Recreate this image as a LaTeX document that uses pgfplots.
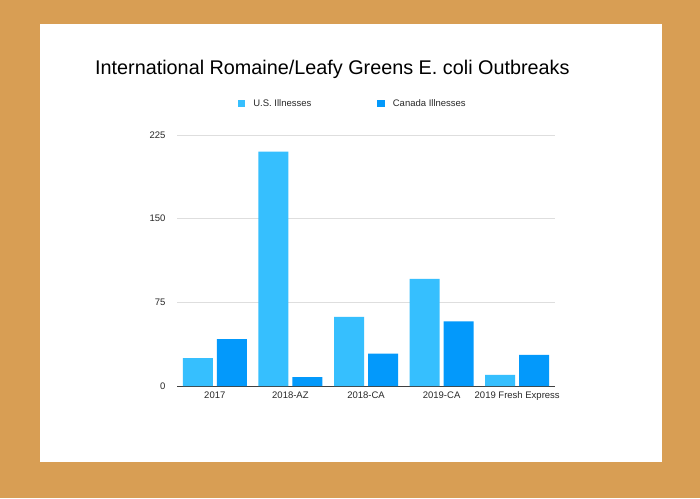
\documentclass[border=0pt]{standalone}
\usepackage{fontspec}
\setmainfont{Liberation Sans}
\usepackage{pgfplots}
\pgfplotsset{compat=1.18}
\definecolor{cork}{RGB}{216,158,84}
\definecolor{usblue}{RGB}{54,191,254}
\definecolor{cablue}{RGB}{3,153,251}
\definecolor{gridgray}{RGB}{222,222,222}
\definecolor{ticktext}{RGB}{40,40,40}
\begin{document}
\begin{tikzpicture}
\fill[cork] (0pt,0pt) rectangle (700pt,498pt);
\fill[white] (40pt,36pt) rectangle (662pt,474pt);
\node[anchor=base west, inner sep=0pt, font=\fontsize{19.8}{23}\selectfont] at (95pt,423pt) {International Romaine/Leafy Greens E. coli Outbreaks};
\begin{axis}[
  at={(177pt,112pt)}, anchor=south west,
  scale only axis, width=378pt, height=251pt,
  ybar=4pt, bar width=30pt,
  xmin=-0.5, xmax=4.5, ymin=0, ymax=225,
  enlarge y limits=false,
  xtick={0,1,2,3,4},
  xticklabels={2017,2018-AZ,2018-CA,2019-CA,2019 Fresh Express},
  ytick={0,75,150,225},
  /pgf/number format/assume math mode=true,
  axis x line*=bottom, axis y line*=left,
  y axis line style={draw=none},
  x axis line style={draw=black!75, line width=0.8pt},
  ymajorgrids, grid style={gridgray, line width=0.6pt},
  major tick length=0pt,
  tick label style={font=\fontsize{9.5}{11}\selectfont, text=ticktext},
  yticklabel style={xshift=-8pt},
  xticklabel style={yshift=-2pt},
  legend columns=2,
  legend style={at={(0.465,1.1255)}, anchor=center, draw=none, fill=none,
    font=\fontsize{9.5}{11}\selectfont, text=ticktext,
    /tikz/every odd column/.append style={column sep=6pt},
    /tikz/every even column/.append style={column sep=64pt}},
  legend image code/.code={\fill[#1] (0pt,-3.75pt) rectangle (7.5pt,3.75pt);},
]
\addplot[fill=usblue, draw=none] coordinates {(0,25) (1,210) (2,62) (3,96) (4,10)};
\addplot[fill=cablue, draw=none] coordinates {(0,42) (1,8) (2,29) (3,58) (4,28)};
\legend{U.S. Illnesses, Canada Illnesses}
\end{axis}
\end{tikzpicture}
\end{document}
